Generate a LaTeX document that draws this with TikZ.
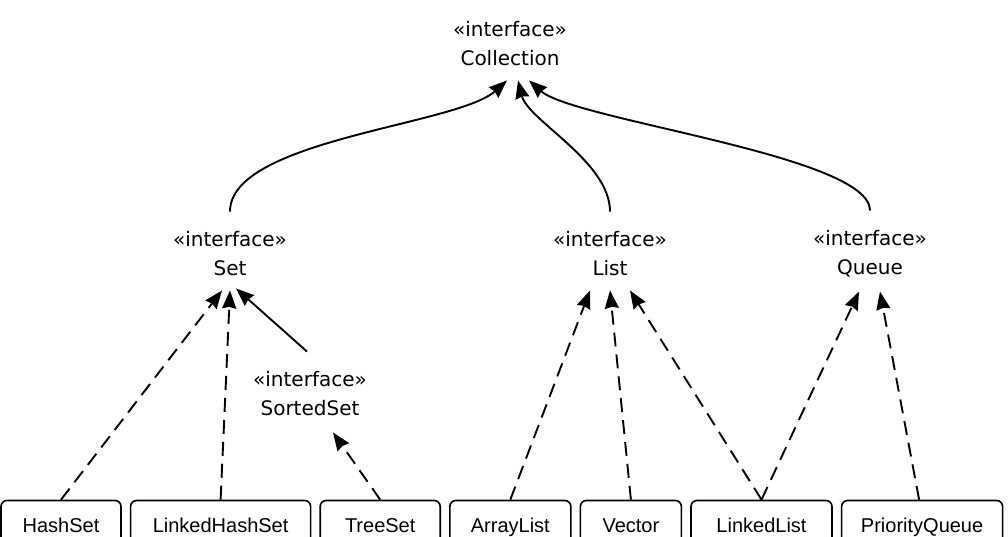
\documentclass[tikz,border=0pt]{standalone}
\usepackage{fontspec}
\setmainfont{Liberation Sans}
\newfontfamily\ifacefont{DejaVu Sans}
\usetikzlibrary{positioning, arrows.meta}

\begin{document}
\begin{tikzpicture}[
    x=1pt, y=-1pt,
    iface/.style={align=center, font=\ifacefont\fontsize{20}{29}\selectfont, inner sep=0pt},
    cls/.style={draw, line width=1.6pt, rounded corners=6pt, minimum height=59pt, text height=10pt, text depth=6pt, inner sep=0pt, font=\fontsize{20}{24}\selectfont},
    extends/.style={line width=1.9pt, -{Stealth[length=18pt, width=14pt, inset=1.5pt]}},
    implements/.style={extends, dash pattern=on 14pt off 8pt}
]
    \useasboundingbox (0,0) rectangle (1008,536);

    % Interfaces
    \node[iface] (coll) at (510,44) {«interface»\\Collection};
    \node[iface] (set) at (230,254) {«interface»\\Set};
    \node[iface] (list) at (610,254) {«interface»\\List};
    \node[iface] (queue) at (870,254) {«interface»\\Queue};
    \node[iface] (sorted) at (310,394) {«interface»\\SortedSet};

    % Classes, left to right
    \node[cls, minimum width=120pt] (hashset) at (61,530) {HashSet};
    \node[cls, minimum width=180pt, right=8pt of hashset] (linkedhashset) {LinkedHashSet};
    \node[cls, minimum width=120pt, right=8pt of linkedhashset] (treeset) {TreeSet};
    \node[cls, minimum width=121pt, right=8pt of treeset] (arraylist) {ArrayList};
    \node[cls, minimum width=101pt, right=8pt of arraylist] (vector) {Vector};
    \node[cls, minimum width=141pt, right=8pt of vector] (linkedlist) {LinkedList};
    \node[cls, minimum width=161pt, right=8pt of linkedlist] (pqueue) {PriorityQueue};

    % Sub-interfaces of Collection
    \draw[extends] ([yshift=20pt]set.north) .. controls +(0,-72) and +(-50,45) .. ([xshift=-3pt, yshift=-14pt]coll.south);
    \draw[extends] ([yshift=20pt]list.north) .. controls +(0,-50) and +(10,40) .. ([xshift=8pt, yshift=-14pt]coll.south);
    \draw[extends] ([yshift=20pt]queue.north) .. controls +(0,-55) and +(45,40) .. ([xshift=19pt, yshift=-14pt]coll.south);
    \draw[extends] ([xshift=-3pt, yshift=20pt]sorted.north) -- ([xshift=6pt, yshift=-12pt]set.south);

    % Set implementations
    \draw[implements] (hashset.north) -- ([xshift=-8pt, yshift=-14pt]set.south);
    \draw[implements] (linkedhashset.north) -- ([yshift=-14pt]set.south);
    \draw[implements] (treeset.north) -- ([xshift=23pt, yshift=-16pt]sorted.south);

    % List implementations
    \draw[implements] (arraylist.north) -- ([xshift=-20pt, yshift=-14pt]list.south);
    \draw[implements] (vector.north) -- ([yshift=-14pt]list.south);
    \draw[implements] (linkedlist.north) -- ([xshift=20pt, yshift=-14pt]list.south);

    % Queue implementations
    \draw[implements] (linkedlist.north) -- ([xshift=-11pt, yshift=-14pt]queue.south);
    \draw[implements] ([xshift=-3pt]pqueue.north) -- ([xshift=10pt, yshift=-14pt]queue.south);

\end{tikzpicture}
\end{document}
